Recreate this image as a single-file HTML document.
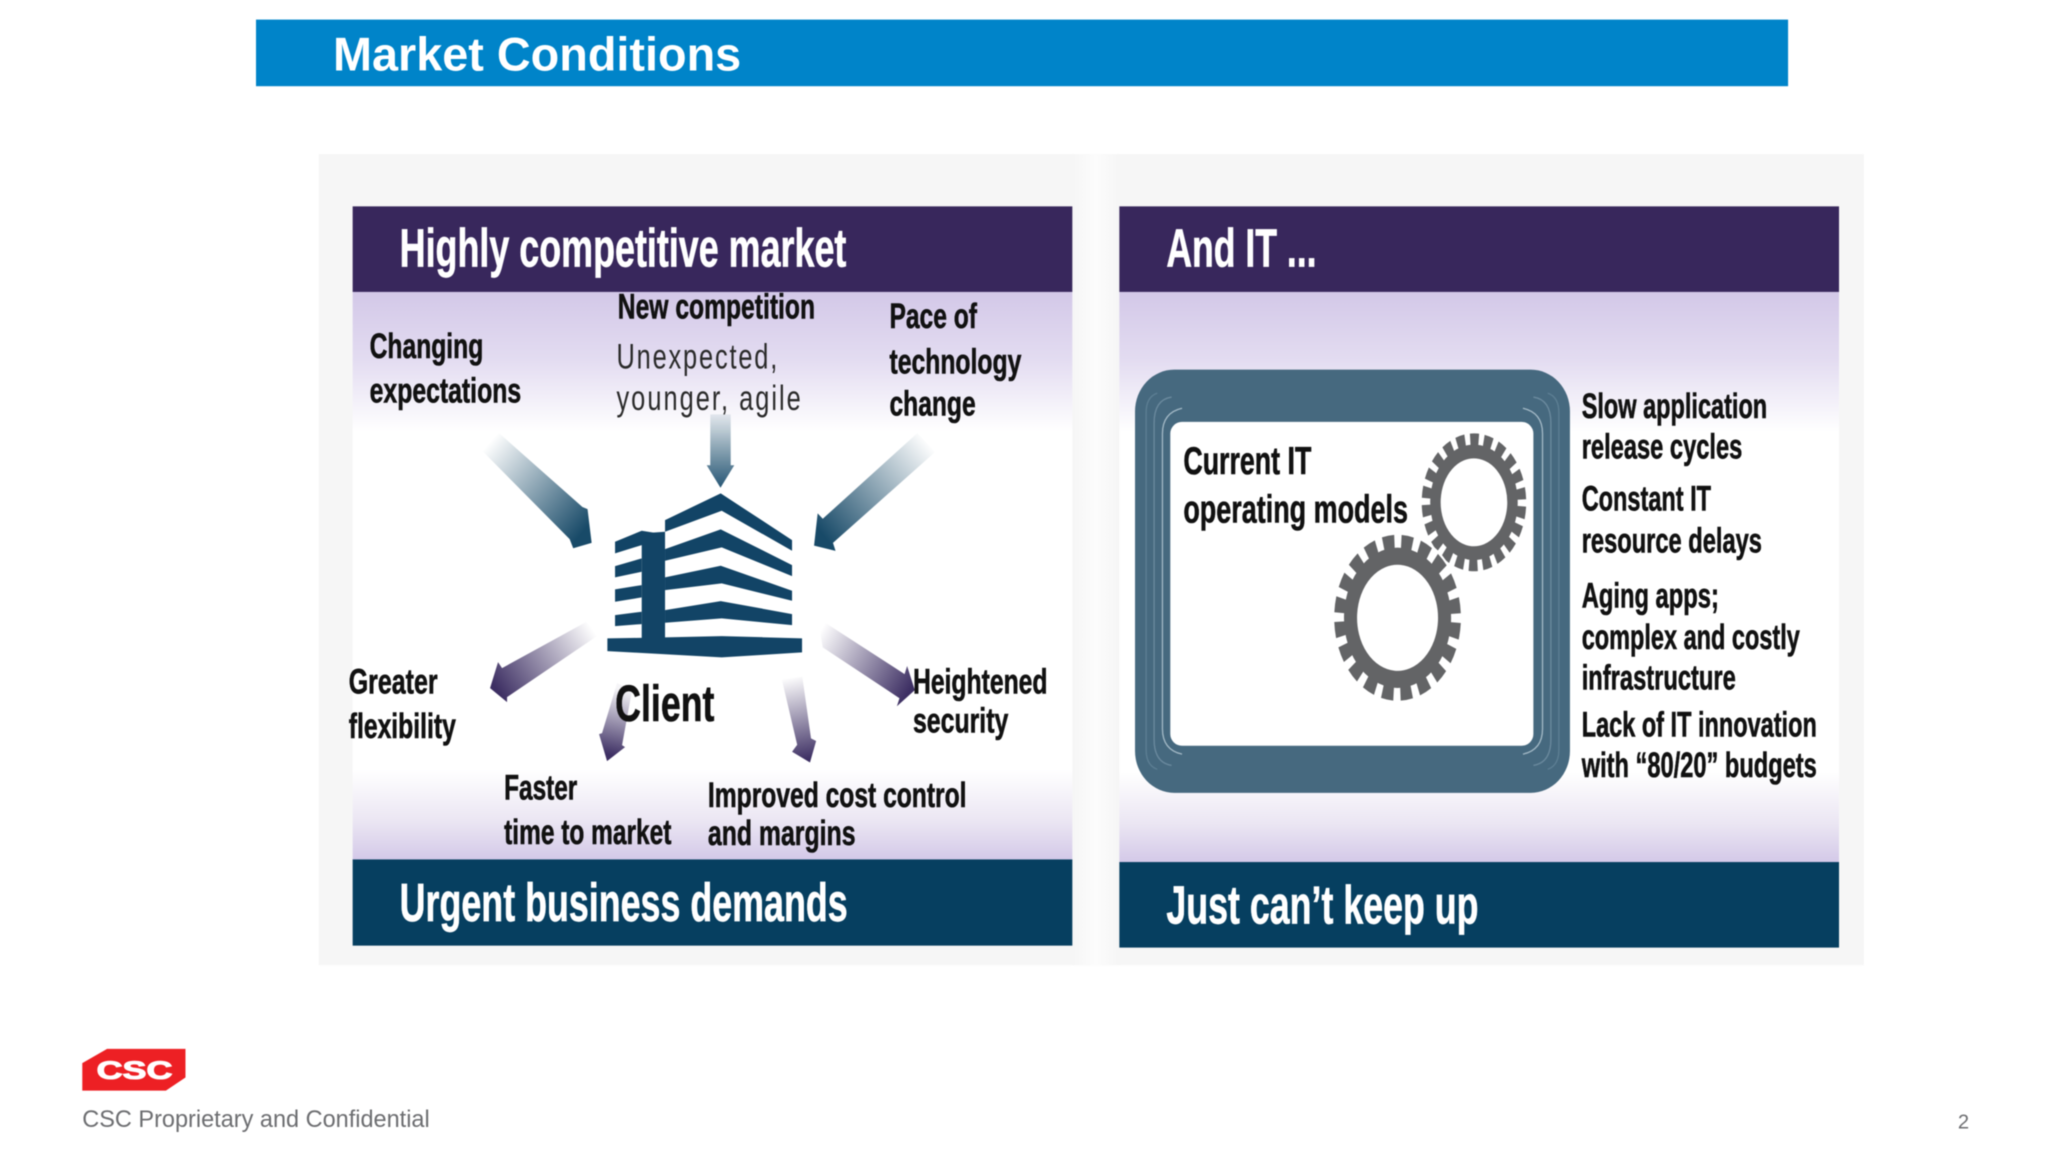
<!DOCTYPE html>
<html><head><meta charset="utf-8"><title>Market Conditions</title>
<style>
html,body{margin:0;padding:0;background:#fff;width:2048px;height:1152px;overflow:hidden}
svg{display:block;filter:blur(.45px)}
text{font-family:"Liberation Sans",Arial,sans-serif}
.b{font-weight:bold;font-size:27px;fill:#111;stroke:#111;stroke-width:.45}
.h{font-weight:bold;font-size:41px;fill:#fff;stroke:#fff;stroke-width:.5}
.r{font-size:27px;fill:#2a2a2a}
</style></head><body>
<svg width="2048" height="1152" viewBox="0 0 1568 882" xmlns="http://www.w3.org/2000/svg">
<defs>
<linearGradient id="pg" x1="0" y1="0" x2="0" y2="1">
<stop offset="0" stop-color="#d3c8e8"/><stop offset=".12" stop-color="#e3dcf1"/><stop offset=".245" stop-color="#fff"/>
<stop offset=".84" stop-color="#fff"/><stop offset=".93" stop-color="#ebe6f3"/><stop offset="1" stop-color="#d3c8e8"/></linearGradient>
<linearGradient id="gap" x1="0" y1="0" x2="1" y2="0"><stop offset="0" stop-color="#f6f6f6"/><stop offset=".5" stop-color="#fcfcfc"/><stop offset="1" stop-color="#f6f6f6"/></linearGradient>
<linearGradient id="a1" gradientUnits="userSpaceOnUse" x1="335" y1="545" x2="520" y2="710"><stop offset="0" stop-color="#184a68" stop-opacity="0"/><stop offset="1" stop-color="#184a68"/></linearGradient>
<linearGradient id="a2" gradientUnits="userSpaceOnUse" x1="785" y1="495" x2="785" y2="630"><stop offset="0" stop-color="#184a68" stop-opacity=".1"/><stop offset="1" stop-color="#2b5a78"/></linearGradient>
<linearGradient id="a3" gradientUnits="userSpaceOnUse" x1="1190" y1="545" x2="985" y2="720"><stop offset="0" stop-color="#184a68" stop-opacity="0"/><stop offset="1" stop-color="#184a68"/></linearGradient>
<linearGradient id="a4" gradientUnits="userSpaceOnUse" x1="592" y1="628" x2="497" y2="690"><stop offset="0" stop-color="#3d2f63" stop-opacity="0"/><stop offset="1" stop-color="#3d2f63"/></linearGradient>
<linearGradient id="a5" gradientUnits="userSpaceOnUse" x1="625" y1="690" x2="610" y2="755"><stop offset="0" stop-color="#3d2f63" stop-opacity=".05"/><stop offset="1" stop-color="#3d2f63"/></linearGradient>
<linearGradient id="a6" gradientUnits="userSpaceOnUse" x1="922" y1="985" x2="955" y2="1140"><stop offset="0" stop-color="#3d2f63" stop-opacity="0"/><stop offset="1" stop-color="#3d2f63"/></linearGradient>
<linearGradient id="a7" gradientUnits="userSpaceOnUse" x1="980" y1="900" x2="1155" y2="1010"><stop offset="0" stop-color="#3d2f63" stop-opacity="0"/><stop offset="1" stop-color="#3d2f63"/></linearGradient>
</defs>

<!-- title bar -->
<rect x="196" y="15" width="1173" height="51" fill="#0084c9"/>
<text x="255" y="54" font-size="36" font-weight="bold" fill="#fff" textLength="312.500" lengthAdjust="spacingAndGlyphs">Market Conditions</text>

<!-- backdrop -->
<rect x="244" y="118" width="1183" height="621" fill="#f6f6f6"/>
<rect x="821" y="118" width="36" height="621" fill="url(#gap)"/>

<!-- left panel -->
<rect x="270" y="223" width="551" height="436" fill="url(#pg)"/>
<rect x="270" y="158" width="551" height="65.500" fill="#38275c"/>
<rect x="270" y="658" width="551" height="66" fill="#063f60"/>
<text class="h" x="306" y="204" textLength="342" lengthAdjust="spacingAndGlyphs">Highly competitive market</text>
<text class="h" x="306" y="705" textLength="343" lengthAdjust="spacingAndGlyphs">Urgent business demands</text>

<!-- arrows -->
<g transform="translate(244.3,114.3) scale(.3915,.41)">
<polygon fill="url(#a1)" points="318,562 352,530 515,668 525,672 533,735 497,745 490,728"/>
<polygon fill="url(#a2)" points="765,495 805,495 805,590 812,590 785,632 758,590 765,590"/>
<polygon fill="url(#a3)" points="1170,530 1205,565 1005,735 1010,750 968,740 975,680 985,690"/>
<polygon fill="url(#a6)" points="905,990 945,985 962,1100 972,1105 960,1145 925,1125 935,1112"/>
<polygon fill="url(#a7)" points="975,875 985,930 1135,1025 1130,1040 1165,1010 1150,965 1145,980"/>
</g>
<g transform="scale(.7657)">
<polygon fill="url(#a4)" points="586,622 600,634 507,697 507,702 490,688 498,662 502,668"/>
<polygon fill="url(#a5)" points="617,683 632,690 622,745 625,747 607,761 599,734 602,733"/>
</g>

<!-- building -->
<g transform="translate(444.1,359.900) scale(.2552)" fill="#124466">
<polygon points="255,150 422,70 636,210 636,242 425,122 255,185"/>
<polygon points="255,237 422,178 636,285 636,318 425,232 255,272"/>
<polygon points="255,322 422,287 636,362 636,392 425,340 255,360"/>
<polygon points="255,420 422,393 636,432 636,465 425,445 255,458"/>
<polygon points="82,505 255,502 425,498 666,505 666,547 425,562 82,543"/>
<polygon points="185,190 255,185 255,505 185,505"/>
<polygon points="105,215 185,182 235,190 185,225 105,250"/>
<polygon points="105,288 185,265 185,305 105,322"/>
<polygon points="105,358 185,345 185,382 105,395"/>
<polygon points="105,435 185,425 185,462 105,468"/>
</g>

<text class="b" x="283" y="274" textLength="87" lengthAdjust="spacingAndGlyphs">Changing</text>
<text class="b" x="283" y="308" textLength="116" lengthAdjust="spacingAndGlyphs">expectations</text>
<text class="b" x="473" y="244" textLength="151" lengthAdjust="spacingAndGlyphs">New competition</text>
<text class="r" transform="translate(472,282) scale(.72,1)" textLength="171" lengthAdjust="spacing">Unexpected,</text>
<text class="r" transform="translate(472,314) scale(.72,1)" textLength="196" lengthAdjust="spacing">younger, agile</text>
<text class="b" x="681" y="251" textLength="67" lengthAdjust="spacingAndGlyphs">Pace of</text>
<text class="b" x="681" y="286" textLength="101" lengthAdjust="spacingAndGlyphs">technology</text>
<text class="b" x="681" y="318" textLength="66" lengthAdjust="spacingAndGlyphs">change</text>
<text class="b" x="267" y="531" textLength="68" lengthAdjust="spacingAndGlyphs">Greater</text>
<text class="b" x="267" y="565" textLength="82" lengthAdjust="spacingAndGlyphs">flexibility</text>
<text class="b" x="699" y="531" textLength="103" lengthAdjust="spacingAndGlyphs">Heightened</text>
<text class="b" x="699" y="561" textLength="73" lengthAdjust="spacingAndGlyphs">security</text>
<text class="b" x="471" y="552" style="font-size:39px" textLength="76" lengthAdjust="spacingAndGlyphs">Client</text>
<text class="b" x="386" y="612" textLength="56" lengthAdjust="spacingAndGlyphs">Faster</text>
<text class="b" x="386" y="646" textLength="128" lengthAdjust="spacingAndGlyphs">time to market</text>
<text class="b" x="542" y="618" textLength="198" lengthAdjust="spacingAndGlyphs">Improved cost control</text>
<text class="b" x="542" y="647" textLength="113" lengthAdjust="spacingAndGlyphs">and margins</text>

<!-- right panel -->
<rect x="857" y="223" width="551" height="438" fill="url(#pg)"/>
<rect x="857" y="158" width="551" height="65.500" fill="#38275c"/>
<rect x="857" y="660" width="551" height="65.500" fill="#063f60"/>
<text class="h" x="893" y="204" textLength="115" lengthAdjust="spacingAndGlyphs">And IT ...</text>
<text class="h" x="893" y="707" textLength="239" lengthAdjust="spacingAndGlyphs">Just can’t keep up</text>

<!-- IT frame -->
<rect x="869" y="283" width="333" height="324" rx="30" ry="32" fill="#46697f"/>
<g fill="none" stroke-width="1">
<path stroke="#5d7f94" d="M886 301 Q877.500 304 877.500 316 V574 Q877.500 586 886 589"/>
<path stroke="#6b8a9e" d="M897 304 Q883.600 306 883.600 324 V566 Q883.600 584 897 586"/>
<path stroke="#a3b9c6" d="M905 312.600 Q890 316 890 332 V558 Q890 574 905 577.400"/>
<g transform="translate(2071,0) scale(-1,1)">
<path stroke="#5d7f94" d="M886 301 Q877.500 304 877.500 316 V574 Q877.500 586 886 589"/>
<path stroke="#6b8a9e" d="M897 304 Q883.600 306 883.600 324 V566 Q883.600 584 897 586"/>
<path stroke="#a3b9c6" d="M905 312.600 Q890 316 890 332 V558 Q890 574 905 577.400"/>
</g>
</g>
<rect x="896" y="323" width="278" height="248" rx="9" ry="9" fill="#fff"/>

<!-- gears -->
<g transform="translate(1128.500,384.600) scale(1,1.32) rotate(4)" fill="none" stroke="#636466">
<circle r="29.500" stroke-width="8"/>
<circle r="36.500" stroke-width="7" pathLength="44" stroke-dasharray="1.25 .75"/>
</g>
<g transform="translate(1070,473) scale(1,1.31) rotate(4)">
<circle r="50" fill="#fff"/>
<g fill="none" stroke="#636466">
<circle r="36" stroke-width="10"/>
<circle r="44.500" stroke-width="8" pathLength="40" stroke-dasharray="1.25 .75"/>
</g>
</g>

<text class="b" x="906" y="363" style="font-size:30px" textLength="98" lengthAdjust="spacingAndGlyphs">Current IT</text>
<text class="b" x="906" y="400" style="font-size:30px" textLength="172" lengthAdjust="spacingAndGlyphs">operating models</text>

<text class="b" x="1211" y="320" textLength="142" lengthAdjust="spacingAndGlyphs">Slow application</text>
<text class="b" x="1211" y="351" textLength="123" lengthAdjust="spacingAndGlyphs">release cycles</text>
<text class="b" x="1211" y="391" textLength="99" lengthAdjust="spacingAndGlyphs">Constant IT</text>
<text class="b" x="1211" y="423" textLength="138" lengthAdjust="spacingAndGlyphs">resource delays</text>
<text class="b" x="1211" y="465" textLength="105" lengthAdjust="spacingAndGlyphs">Aging apps;</text>
<text class="b" x="1211" y="497" textLength="167" lengthAdjust="spacingAndGlyphs">complex and costly</text>
<text class="b" x="1211" y="528" textLength="118" lengthAdjust="spacingAndGlyphs">infrastructure</text>
<text class="b" x="1211" y="564" textLength="180" lengthAdjust="spacingAndGlyphs">Lack of IT innovation</text>
<text class="b" x="1211" y="595" textLength="180" lengthAdjust="spacingAndGlyphs">with “80/20” budgets</text>

<!-- footer -->
<polygon points="63,814 82,803 142,803 142,825 127,835 63,835" fill="#ed2024"/>
<text x="74" y="826" font-size="19" font-weight="bold" fill="#fff" stroke="#fff" stroke-width=".8" textLength="58" lengthAdjust="spacingAndGlyphs">CSC</text>
<text x="63" y="863" font-size="18.500" fill="#6d6e71" textLength="266" lengthAdjust="spacingAndGlyphs">CSC Proprietary and Confidential</text>
<text x="1499" y="864" font-size="15.500" fill="#6d6e71">2</text>
</svg>
</body></html>
